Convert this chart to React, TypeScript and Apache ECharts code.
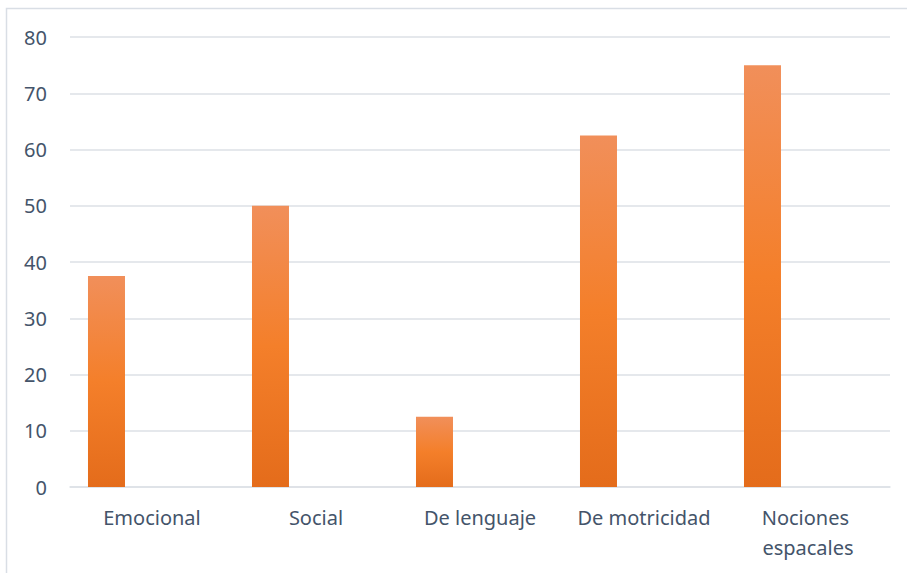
import React, { useEffect, useRef } from "react";
import * as echarts from "echarts";

const categories = ["Emocional", "Social", "De lenguaje", "De motricidad", "Nociones espacales"];
const values = [37.5, 50, 12.5, 62.5, 75];
const emptySeries = [null, null, null, null, null];
const yTicks = { min: 0, max: 80, interval: 10 };

export default function App() {
  const ref = useRef<HTMLDivElement>(null);
  useEffect(() => {
    if (!ref.current) return;
    const chart = echarts.init(ref.current, null, { renderer: "svg" });
    const textColor = "#44546A";
    const font = "Noto Sans";
    chart.setOption({
      animation: false,
      backgroundColor: "#ffffff",
      graphic: [
        {
          type: "rect",
          shape: { x: 6.5, y: 8.5, width: 920, height: 600 },
          style: { fill: "none", stroke: "#D9DEE5", lineWidth: 1.5 },
          silent: true,
        },
      ],
      grid: { left: 70, right: 17, top: 37, bottom: 86 },
      xAxis: {
        type: "category",
        data: categories,
        axisTick: { show: false },
        axisLine: { lineStyle: { color: "#DDE1E6", width: 1.5 } },
        axisLabel: {
          color: textColor,
          fontFamily: font,
          fontSize: 20,
          margin: 15,
          lineHeight: 30,
          width: 150,
          overflow: "break",
          interval: 0,
        },
      },
      yAxis: {
        type: "value",
        min: yTicks.min,
        max: yTicks.max,
        interval: yTicks.interval,
        axisLabel: { color: textColor, fontFamily: font, fontSize: 20, margin: 23 },
        splitLine: { lineStyle: { color: "#DDE1E6", width: 1.5 } },
        axisLine: { show: false },
        axisTick: { show: false },
      },
      series: [
        {
          type: "bar",
          data: values,
          barWidth: 37,
          barGap: "146%",
          itemStyle: {
            color: new echarts.graphic.LinearGradient(0, 0, 0, 1, [
              { offset: 0, color: "#F18F5A" },
              { offset: 0.5, color: "#F47F2A" },
              { offset: 1, color: "#E46C1B" },
            ]),
          },
        },
        {
          type: "bar",
          data: emptySeries,
          barWidth: 37,
        },
      ],
    });
    return () => chart.dispose();
  }, []);
  return (
    <div
      ref={ref}
      style={{ position: "fixed", left: 0, top: 0, width: 907, height: 573 }}
    />
  );
}
